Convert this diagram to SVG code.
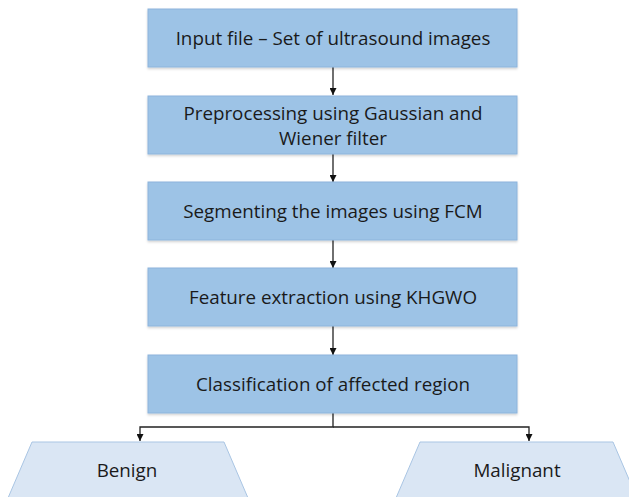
<svg xmlns="http://www.w3.org/2000/svg" width="629" height="497" viewBox="0 0 629 497">
<defs>
<style>
.box{fill:#9DC3E6;stroke:#8DB4DC;stroke-width:1}
.trap{fill:#DAE6F4;stroke:#A9C5E3;stroke-width:1}
.t{font-family:"Open Sans","Liberation Sans",sans-serif;font-size:18.8px;fill:#1A1A1A;text-anchor:middle}
.c{stroke:#222;stroke-width:1.3;fill:none}
</style>
<marker id="ah" viewBox="0 0 10 10" refX="10" refY="5" markerWidth="7" markerHeight="7" markerUnits="userSpaceOnUse" orient="auto">
<path d="M0,0 L10,5 L0,10 z" fill="#111"/>
</marker>
<filter id="sh" x="-5%" y="-10%" width="110%" height="130%">
<feDropShadow dx="0" dy="1.5" stdDeviation="1.2" flood-color="#000" flood-opacity="0.18"/>
</filter>
</defs>
<rect width="629" height="497" fill="#fff"/>
<g id="connectors">
<line class="c" x1="333" y1="67" x2="333" y2="95" marker-end="url(#ah)"/>
<line class="c" x1="333" y1="154" x2="333" y2="182" marker-end="url(#ah)"/>
<line class="c" x1="333" y1="240" x2="333" y2="268" marker-end="url(#ah)"/>
<line class="c" x1="333" y1="326" x2="333" y2="355" marker-end="url(#ah)"/>
<polyline class="c" points="333,413 333,427 140,427 140,441" marker-end="url(#ah)"/>
<polyline class="c" points="333,427 529,427 529,441" marker-end="url(#ah)"/>
</g>
<g id="n1"><rect class="box" filter="url(#sh)" x="148" y="9" width="369" height="58"/><text class="t" x="333" y="45">Input file – Set of ultrasound images</text></g>
<g id="n2"><rect class="box" filter="url(#sh)" x="148" y="96" width="369" height="58"/><text class="t" x="333" y="120">Preprocessing using Gaussian and</text><text class="t" x="333" y="145">Wiener filter</text></g>
<g id="n3"><rect class="box" filter="url(#sh)" x="148" y="182" width="369" height="58"/><text class="t" x="333" y="218">Segmenting the images using FCM</text></g>
<g id="n4"><rect class="box" filter="url(#sh)" x="148" y="268" width="369" height="58"/><text class="t" x="333" y="304">Feature extraction using KHGWO</text></g>
<g id="n5"><rect class="box" filter="url(#sh)" x="148" y="355" width="369" height="58"/><text class="t" x="333" y="391">Classification of affected region</text></g>
<g id="benign"><polygon class="trap" points="32,442 224,442 248,498 8,498"/><text class="t" x="127" y="477">Benign</text></g>
<g id="malignant"><polygon class="trap" points="420,442 613,442 637,498 396,498"/><text class="t" x="517" y="477">Malignant</text></g>
</svg>
